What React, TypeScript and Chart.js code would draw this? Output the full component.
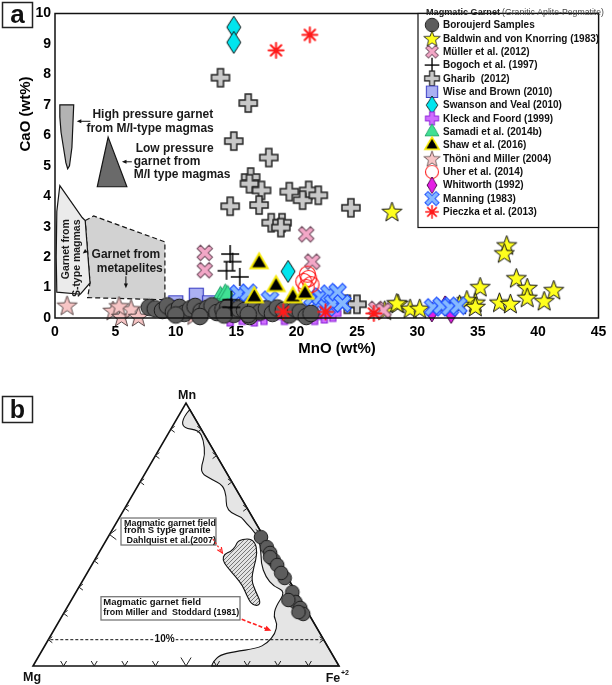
import React, { useEffect, useRef } from 'react';
import { Chart, registerables } from 'chart.js';

Chart.register(...registerables);

const FONT = '"Liberation Sans", Arial, Helvetica, sans-serif';

// ================= Panel a : MnO (wt%) vs CaO (wt%) =================
const mnoTicks = [0, 5, 10, 15, 20, 25, 30, 35, 40, 45];
const caoTicks = [0, 1, 2, 3, 4, 5, 6, 7, 8, 9, 10];
const xTitle = 'MnO (wt%)';
const yTitle = 'CaO (wt%)';

const legendTitle = 'Magmatic Garnet';
const legendSubtitle = '(Granitic Aplite-Pegmatite)';
const seriesNames = [
  'Boroujerd Samples',
  'Baldwin and von Knorring (1983)',
  'Müller et al. (2012)',
  'Bogoch et al. (1997)',
  'Gharib  (2012)',
  'Wise and Brown (2010)',
  'Swanson and Veal (2010)',
  'Kleck and Foord (1999)',
  'Samadi et al. (2014b)',
  'Shaw et al. (2016)',
  'Thöni and Miller (2004)',
  'Uher et al. (2014)',
  'Whitworth (1992)',
  'Manning (1983)',
  'Pieczka et al. (2013)',
];

const boroujerdMnO = [7.8, 8.3, 8.9, 9.3, 9.8, 10.3, 10.7, 11.2, 11.6, 12.1, 12.6, 13.0, 13.4, 13.9, 14.3, 14.8, 15.2, 15.7, 16.1, 16.6, 17.0, 17.5, 18.0, 18.4, 18.9, 19.4, 19.9, 20.3, 20.8, 21.2, 10.0, 12.0, 14.0, 16.0];
const boroujerdCaO = [0.35, 0.30, 0.25, 0.40, 0.20, 0.35, 0.15, 0.30, 0.38, 0.22, 0.32, 0.40, 0.18, 0.28, 0.35, 0.12, 0.30, 0.25, 0.05, 0.36, 0.20, 0.30, 0.15, 0.33, 0.25, 0.10, 0.30, 0.20, 0.05, 0.15, 0.10, 0.05, 0.10, 0.12];
const baldwinMnO = [27.9, 37.4, 37.2, 38.2, 35.2, 39.1, 41.3, 39.1, 40.5, 36.8, 37.7, 34.8, 34.1, 34.8, 28.4, 29.4, 30.2, 27.3, 28.3, 33.5];
const baldwinCaO = [3.5, 2.4, 2.14, 1.32, 1.03, 1.0, 0.93, 0.68, 0.57, 0.52, 0.48, 0.52, 0.6, 0.38, 0.48, 0.32, 0.32, 0.26, 0.5, 0.45];
const mullerMnO = [12.4, 12.4, 20.8, 21.3, 26.6, 27.2];
const mullerCaO = [2.14, 1.57, 2.75, 1.85, 0.3, 0.25];
const bogochMnO = [14.5, 14.7, 14.2, 15.3, 14.6, 14.6];
const bogochCaO = [2.1, 1.85, 1.55, 1.35, 0.6, 0.35];
const gharibMnO = [13.7, 16.0, 14.8, 17.7, 16.2, 16.1, 17.1, 14.5, 16.9, 19.4, 21.0, 20.5, 21.8, 17.9, 18.8, 18.7, 24.5, 24.2, 25.0];
const gharibCaO = [7.89, 7.06, 5.81, 5.27, 4.63, 4.41, 4.19, 3.67, 3.71, 4.15, 4.19, 3.87, 4.03, 3.13, 3.13, 2.97, 3.62, 0.45, 0.45];
const wiseMnO = [10.0, 11.7, 12.8, 9.4];
const wiseCaO = [0.5, 0.75, 0.5, 0.35];
const swansonMnO = [14.8, 14.8, 19.3];
const swansonCaO = [9.55, 9.05, 1.53];
const kleckMnO = [14.5, 15.5, 16.5, 17.3, 19.0, 21.5, 22.3, 23.0];
const kleckCaO = [0.0, 0.05, 0.0, 0.05, 0.05, 0.05, 0.1, 0.15];
const samadiMnO = [13.7, 14.1, 14.3];
const samadiCaO = [0.72, 0.8, 0.75];
const shawMnO = [16.9, 18.3, 16.5, 19.7, 20.7];
const shawCaO = [1.8, 1.05, 0.68, 0.68, 0.8];
const thoniMnO = [1.0, 4.8, 5.5, 6.3, 6.9, 5.3, 11.5];
const thoniCaO = [0.42, 0.25, 0.05, 0.3, 0.05, 0.4, 0.1];
const uherMnO = [20.9, 20.6, 21.2, 21.0, 20.8];
const uherCaO = [1.44, 1.2, 1.1, 1.3, 1.0];
const whitworthMnO = [31.2, 32.3, 32.8];
const whitworthCaO = [0.2, 0.4, 0.15];
const manningMnO = [15.2, 16.0, 17.8, 20.0, 21.3, 21.8, 22.0, 22.5, 22.7, 23.0, 23.4, 23.8, 31.3, 32.0, 32.7, 33.4];
const manningCaO = [0.8, 0.83, 0.6, 0.55, 0.67, 0.5, 0.7, 0.35, 0.8, 0.48, 0.85, 0.48, 0.35, 0.4, 0.35, 0.4];
const pieczkaMnO = [18.3, 21.1, 18.9, 22.4, 26.4];
const pieczkaCaO = [8.79, 9.3, 0.2, 0.2, 0.15];

// compositional fields of panel a (outlines in MnO / CaO wt%)
const highPressureMnO = [0.4, 1.55, 1.4, 1.2, 1.05, 0.9, 0.7, 0.5, 0.4];
const highPressureCaO = [7.0, 7.0, 5.6, 5.0, 4.9, 5.1, 5.6, 6.1, 6.6];
const lowPressureMnO = [4.4, 5.95, 3.5];
const lowPressureCaO = [5.94, 4.31, 4.31];
const sTypeMnO = [0.4, 2.25, 2.5, 2.9, 2.1, 0.15, 0.1, 0.15];
const sTypeCaO = [4.35, 3.3, 3.2, 1.15, 0.78, 0.85, 2.0, 3.5];
const metapeliteMnO = [2.5, 3.2, 9.1, 9.1, 2.7, 2.9];
const metapeliteCaO = [3.2, 3.35, 2.5, 0.6, 0.67, 1.15];

// ================= Panel b : Mn - Mg - Fe+2 ternary =================
const apexLabels = ['Mn', 'Mg', 'Fe'];
const sampleMn = [49.0, 45.2, 43.0, 40.3, 41.4, 38.4, 33.5, 28.1, 24.3, 25.1, 22.1, 19.8, 20.5, 35.4];
const sampleMg = [1.0, 1.0, 1.0, 1.2, 1.8, 1.0, 1.0, 1.2, 2.1, 4.0, 1.6, 1.8, 3.0, 1.2];
// Miller & Stoddard (1981) field: inner boundary, then Fe corner and Mn-Fe edge
const millerFieldMn = [96.1, 93.5, 90.4, 89.7, 85.9, 80.2, 76.4, 73.3, 71.0, 68.8, 64.4, 60.6, 58.1, 56.8, 54.3, 50.5, 45.4, 39.0, 34.0, 30.2, 28.3, 22.5, 18.7, 16.2, 12.4, 8.6, 6.7, 5.4, 4.2, 1.6, 0, 0, 97.5];
const millerFieldMg = [1.7, 4.6, 5.6, 1.0, 1.3, 3.7, 6.7, 8.3, 6.2, 3.5, 4.6, 6.6, 6.2, 3.6, 3.2, 1.9, 2.8, 6.0, 7.0, 6.2, 3.3, 9.5, 12.0, 12.1, 14.6, 19.2, 23.5, 31.8, 36.8, 40.3, 41.6, 0, 0];
// Dahlquist et al. (2007) S-type field
const dahlquistFieldMn = [47.6, 48.6, 47.3, 42.9, 37.8, 32.7, 28.3, 24.4, 22.8, 23.6, 27.0, 30.8, 34.0, 37.8, 40.3, 42.6, 43.5, 45.6];
const dahlquistFieldMg = [9.3, 5.4, 3.8, 5.2, 8.9, 12.3, 13.1, 13.4, 15.1, 16.9, 16.7, 16.2, 16.8, 17.8, 17.9, 16.2, 13.6, 10.9];
const ternaryTicks = [10, 20, 30, 40, 50, 60, 70, 80, 90];
const guideLineMn = 10;
const guideLabel = '10%';
const boxDahlquist = ['Magmatic garnet field', 'from S type granite', ' Dahlquist et al.(2007)'];
const boxMiller = ['Magmatic garnet field', 'from Miller and  Stoddard (1981)'];

// ================= helpers =================
function ternXY(mn: number, mg: number) {
  const fe = 100 - mn - mg;
  return { x: (fe + mn / 2) / 100, y: mn / 100 };
}

function canvasMarker(w: number, h: number, paint: (c: CanvasRenderingContext2D) => void) {
  const cv = document.createElement('canvas');
  cv.width = w;
  cv.height = h;
  const c = cv.getContext('2d') as CanvasRenderingContext2D;
  c.translate(w / 2, h / 2);
  c.lineJoin = 'miter';
  paint(c);
  return cv;
}
function fs(c: CanvasRenderingContext2D, fill: string | null, stroke: string | null, lw: number) {
  if (fill) { c.fillStyle = fill; c.fill(); }
  if (stroke) { c.strokeStyle = stroke; c.lineWidth = lw; c.stroke(); }
}
function circleM(r: number, fill: string | null, stroke: string, lw: number) {
  const s = Math.ceil(2 * r + lw + 3);
  return canvasMarker(s, s, (c) => { c.beginPath(); c.arc(0, 0, r, 0, Math.PI * 2); fs(c, fill, stroke, lw); });
}
function starM(R: number, r: number, fill: string, stroke: string, lw: number) {
  const s = Math.ceil(2 * R + lw + 3);
  return canvasMarker(s, s, (c) => {
    c.beginPath();
    for (let i = 0; i < 10; i++) {
      const a = -Math.PI / 2 + (i * Math.PI) / 5;
      const rr = i % 2 === 0 ? R : r;
      const px = rr * Math.cos(a), py = rr * Math.sin(a) + R * 0.1;
      if (i === 0) c.moveTo(px, py); else c.lineTo(px, py);
    }
    c.closePath();
    fs(c, fill, stroke, lw);
  });
}
function plusM(L: number, w: number, rot: number, fill: string, stroke: string, lw: number) {
  const s = Math.ceil(2 * L + lw + 4);
  return canvasMarker(s, s, (c) => {
    c.rotate(rot);
    const p = [[-w, -L], [w, -L], [w, -w], [L, -w], [L, w], [w, w], [w, L], [-w, L], [-w, w], [-L, w], [-L, -w], [-w, -w]];
    c.beginPath();
    p.forEach((q, i) => (i ? c.lineTo(q[0], q[1]) : c.moveTo(q[0], q[1])));
    c.closePath();
    fs(c, fill, stroke, lw);
  });
}
function thinPlusM(L: number, color: string, lw: number) {
  const s = Math.ceil(2 * L + lw + 2);
  return canvasMarker(s, s, (c) => {
    c.beginPath(); c.moveTo(-L, 0); c.lineTo(L, 0); c.moveTo(0, -L); c.lineTo(0, L);
    c.strokeStyle = color; c.lineWidth = lw; c.stroke();
  });
}
function asteriskM(L: number, color: string, lw: number) {
  const s = Math.ceil(2 * L + lw + 2);
  return canvasMarker(s, s, (c) => {
    c.beginPath();
    for (let k = 0; k < 4; k++) {
      const a = (k * Math.PI) / 4;
      c.moveTo(-L * Math.cos(a), -L * Math.sin(a));
      c.lineTo(L * Math.cos(a), L * Math.sin(a));
    }
    c.strokeStyle = color; c.lineWidth = lw; c.lineCap = 'round'; c.stroke();
  });
}
function squareM(side: number, fill: string, stroke: string, lw: number) {
  const s = Math.ceil(side + lw + 3);
  return canvasMarker(s, s, (c) => { c.beginPath(); c.rect(-side / 2, -side / 2, side, side); fs(c, fill, stroke, lw); });
}
function triangleM(side: number, fill: string, stroke: string, lw: number) {
  const h = (side * Math.sqrt(3)) / 2;
  const s = Math.ceil(side + lw * 2 + 4);
  return canvasMarker(s, s, (c) => {
    c.beginPath(); c.moveTo(0, -(2 * h) / 3); c.lineTo(side / 2, h / 3); c.lineTo(-side / 2, h / 3); c.closePath();
    fs(c, fill, stroke, lw);
  });
}
function diamondM(w: number, h: number, fill: string, stroke: string, lw: number) {
  return canvasMarker(Math.ceil(w + lw + 3), Math.ceil(h + lw + 3), (c) => {
    c.beginPath(); c.moveTo(0, -h / 2); c.lineTo(w / 2, 0); c.lineTo(0, h / 2); c.lineTo(-w / 2, 0); c.closePath();
    fs(c, fill, stroke, lw);
  });
}

function smoothOpen(ctx: CanvasRenderingContext2D, pts: number[][]) {
  ctx.moveTo(pts[0][0], pts[0][1]);
  for (let i = 1; i < pts.length - 1; i++) {
    const mx = (pts[i][0] + pts[i + 1][0]) / 2, my = (pts[i][1] + pts[i + 1][1]) / 2;
    ctx.quadraticCurveTo(pts[i][0], pts[i][1], mx, my);
  }
  const l = pts[pts.length - 1];
  ctx.lineTo(l[0], l[1]);
}
function smoothClosed(ctx: CanvasRenderingContext2D, pts: number[][]) {
  const n = pts.length;
  const m0 = [(pts[n - 1][0] + pts[0][0]) / 2, (pts[n - 1][1] + pts[0][1]) / 2];
  ctx.moveTo(m0[0], m0[1]);
  for (let i = 0; i < n; i++) {
    const p = pts[i], q = pts[(i + 1) % n];
    ctx.quadraticCurveTo(p[0], p[1], (p[0] + q[0]) / 2, (p[1] + q[1]) / 2);
  }
  ctx.closePath();
}
function arrow(ctx: CanvasRenderingContext2D, x1: number, y1: number, x2: number, y2: number, color: string, lw: number, dash: number[], filled: boolean, hl: number) {
  ctx.save();
  ctx.strokeStyle = color; ctx.fillStyle = color; ctx.lineWidth = lw;
  const a = Math.atan2(y2 - y1, x2 - x1);
  ctx.setLineDash(dash);
  ctx.beginPath(); ctx.moveTo(x1, y1);
  ctx.lineTo(filled ? x2 - hl * 0.7 * Math.cos(a) : x2, filled ? y2 - hl * 0.7 * Math.sin(a) : y2);
  ctx.stroke();
  ctx.setLineDash([]);
  const p1 = [x2 - hl * Math.cos(a - 0.42), y2 - hl * Math.sin(a - 0.42)];
  const p2 = [x2 - hl * Math.cos(a + 0.42), y2 - hl * Math.sin(a + 0.42)];
  ctx.beginPath();
  if (filled) {
    ctx.moveTo(x2, y2); ctx.lineTo(p1[0], p1[1]); ctx.lineTo(p2[0], p2[1]); ctx.closePath(); ctx.fill();
  } else {
    ctx.moveTo(p1[0], p1[1]); ctx.lineTo(x2, y2); ctx.lineTo(p2[0], p2[1]); ctx.stroke();
  }
  ctx.restore();
}

function buildMarkers() {
  return {
    boroujerd: circleM(8.3, '#5d5d5d', '#1b1b1b', 1),
    boroujerdSmall: circleM(6.8, '#5d5d5d', '#1b1b1b', 1),
    baldwin: starM(10.5, 4.3, '#ffff1e', '#111', 1),
    muller: plusM(8.5, 2.4, Math.PI / 4, '#f3a7c7', '#6e4a5c', 1),
    bogoch: thinPlusM(9, '#000', 1.5),
    gharib: plusM(9, 3, 0, '#c8c8c8', '#222', 1.5),
    wise: squareM(14, '#abb0f2', '#3b3fc4', 1.2),
    swanson: diamondM(14, 22, '#00e5ee', '#111', 1),
    kleck: plusM(8, 3, 0, '#cf6cff', '#8a1fd8', 1.2),
    samadi: triangleM(17, '#40e094', '#229e68', 1),
    shaw: triangleM(17, '#000', '#f5e800', 2),
    thoni: starM(10.5, 4.3, '#f7c5c5', '#5a4848', 1),
    uher: circleM(8, null, '#ff1a1a', 1.2),
    whitworth: diamondM(12, 20, '#e41ee4', '#3a003a', 1),
    manning: plusM(9.5, 2.6, Math.PI / 4, '#86b9ff', '#1f50ff', 1.2),
    pieczka: asteriskM(7.5, '#ff1a1a', 2),
  };
}

// ================= Component =================
export default function App() {
  const refA = useRef<HTMLCanvasElement>(null);
  const refB = useRef<HTMLCanvasElement>(null);

  useEffect(() => {
    const M = buildMarkers();
    const seriesA = [
      { x: boroujerdMnO, y: boroujerdCaO, m: M.boroujerd, order: 5 },
      { x: baldwinMnO, y: baldwinCaO, m: M.baldwin, order: 14 },
      { x: mullerMnO, y: mullerCaO, m: M.muller, order: 12 },
      { x: bogochMnO, y: bogochCaO, m: M.bogoch, order: 2 },
      { x: gharibMnO, y: gharibCaO, m: M.gharib, order: 13 },
      { x: wiseMnO, y: wiseCaO, m: M.wise, order: 10 },
      { x: swansonMnO, y: swansonCaO, m: M.swanson, order: 4 },
      { x: kleckMnO, y: kleckCaO, m: M.kleck, order: 9 },
      { x: samadiMnO, y: samadiCaO, m: M.samadi, order: 7 },
      { x: shawMnO, y: shawCaO, m: M.shaw, order: 1 },
      { x: thoniMnO, y: thoniCaO, m: M.thoni, order: 11 },
      { x: uherMnO, y: uherCaO, m: M.uher, order: 3 },
      { x: whitworthMnO, y: whitworthCaO, m: M.whitworth, order: 8 },
      { x: manningMnO, y: manningCaO, m: M.manning, order: 6 },
      { x: pieczkaMnO, y: pieczkaCaO, m: M.pieczka, order: 0 },
    ];

    const pluginA = {
      id: 'panelA',
      beforeDatasetsDraw(chart: any) {
        const ctx: CanvasRenderingContext2D = chart.ctx;
        const xs = chart.scales.x, ys = chart.scales.y;
        const P = (a: number, b: number) => [xs.getPixelForValue(a), ys.getPixelForValue(b)];
        const poly = (X: number[], Y: number[], fill: string, dash: number[]) => {
          ctx.beginPath();
          X.forEach((v, i) => { const q = P(v, Y[i]); if (i) ctx.lineTo(q[0], q[1]); else ctx.moveTo(q[0], q[1]); });
          ctx.closePath();
          ctx.fillStyle = fill; ctx.fill();
          ctx.setLineDash(dash); ctx.lineWidth = 1.2; ctx.strokeStyle = '#151515'; ctx.stroke(); ctx.setLineDash([]);
        };
        ctx.save();
        poly(metapeliteMnO, metapeliteCaO, '#d2d2d2', [5, 3]);
        poly(sTypeMnO, sTypeCaO, '#ebebeb', []);
        poly(highPressureMnO, highPressureCaO, '#b3b3b3', []);
        poly(lowPressureMnO, lowPressureCaO, '#6a6a6a', []);

        ctx.fillStyle = '#1a1a1a';
        ctx.textBaseline = 'middle';
        ctx.font = `bold 12px ${FONT}`;
        const txt = (t: string, a: number, b: number, align: CanvasTextAlign) => {
          const q = P(a, b); ctx.textAlign = align; ctx.fillText(t, q[0], q[1]);
        };
        txt('High pressure garnet', 3.1, 6.68, 'left');
        txt('from M/I-type magmas', 2.6, 6.23, 'left');
        txt('Low pressure', 6.68, 5.56, 'left');
        txt('garnet from', 6.52, 5.14, 'left');
        txt('M/I type magmas', 6.52, 4.72, 'left');
        txt('Garnet from', 5.87, 2.08, 'center');
        txt('metapelites', 6.19, 1.63, 'center');
        ctx.font = `bold 10.5px ${FONT}`;
        const rot = (t: string, a: number, b: number) => {
          const q = P(a, b);
          ctx.save(); ctx.translate(q[0], q[1]); ctx.rotate(-Math.PI / 2); ctx.textAlign = 'center'; ctx.fillText(t, 0, 0); ctx.restore();
        };
        rot('Garnet from', 0.9, 2.26);
        rot('S-type magmas', 1.83, 1.96);
        const ar = (a1: number, b1: number, a2: number, b2: number) => {
          const p = P(a1, b1), q = P(a2, b2);
          arrow(ctx, p[0], p[1], q[0], q[1], '#111', 1, [], true, 5);
        };
        ar(2.93, 6.46, 1.8, 6.46);
        ar(6.36, 5.13, 5.54, 5.13);
        ar(5.87, 1.37, 5.87, 0.98);
        ar(2.55, 2.2, 2.3, 2.12);
        ctx.restore();
      },
      afterDatasetsDraw(chart: any) {
        const ctx: CanvasRenderingContext2D = chart.ctx;
        const xs = chart.scales.x;
        const area = chart.chartArea;
        ctx.save();
        // frame
        ctx.strokeStyle = '#111'; ctx.lineWidth = 1.5;
        ctx.strokeRect(area.left, area.top, area.right - area.left, area.bottom - area.top);
        // legend
        const lx = 418, ly = area.top, lw = area.right - 418, lh = 214;
        ctx.fillStyle = '#fff'; ctx.fillRect(lx, ly, lw, lh);
        ctx.lineWidth = 1.2; ctx.strokeRect(lx, ly, lw, lh);
        ctx.textBaseline = 'middle'; ctx.textAlign = 'left';
        ctx.fillStyle = '#222'; ctx.font = `bold 9.5px ${FONT}`;
        ctx.fillText(legendTitle, 426, 12.5, 74);
        ctx.fillStyle = '#444'; ctx.font = `8.8px ${FONT}`;
        ctx.fillText(legendSubtitle, 502, 12.5, 102);
        ctx.font = `bold 10px ${FONT}`; ctx.fillStyle = '#111';
        seriesA.forEach((s, i) => {
          const cy = 25 + i * 13.35;
          const sc = 0.82;
          const w = s.m.width * sc, h = s.m.height * sc;
          ctx.drawImage(s.m, 432 - w / 2, cy - h / 2, w, h);
          ctx.fillText(seriesNames[i], 443, cy + 0.5, 162);
        });
        // x tick labels
        ctx.fillStyle = '#000'; ctx.font = `bold 14px ${FONT}`; ctx.textAlign = 'center';
        xs.ticks.forEach((t: any) => {
          const label = String(t.value);
          const w = ctx.measureText(label).width;
          let px = xs.getPixelForValue(t.value);
          px = Math.min(px, 611 - w / 2);
          ctx.fillText(label, px, area.bottom + 14);
        });
        // axis titles
        ctx.font = `bold 15px ${FONT}`;
        ctx.fillText(xTitle, 337, area.bottom + 31);
        ctx.save(); ctx.translate(26, 114); ctx.rotate(-Math.PI / 2); ctx.fillText(yTitle, 0, 0); ctx.restore();
        // panel label
        ctx.lineWidth = 1.5; ctx.strokeStyle = '#222';
        ctx.fillStyle = '#fff'; ctx.fillRect(2.5, 2.5, 30, 25); ctx.strokeRect(2.5, 2.5, 30, 25);
        ctx.fillStyle = '#111'; ctx.font = `bold 26px ${FONT}`; ctx.textBaseline = 'alphabetic';
        ctx.fillText('a', 17.5, 22.5);
        ctx.restore();
      },
    };

    const chartA = new Chart(refA.current as HTMLCanvasElement, {
      type: 'scatter',
      data: {
        datasets: seriesA.map((s, i) => ({
          label: seriesNames[i],
          data: s.x.map((v, k) => ({ x: v, y: s.y[k] })),
          pointStyle: s.m as any,
          pointRadius: s.m.width / 2,
          pointHoverRadius: s.m.width / 2,
          order: s.order,
          clip: false as any,
        })),
      },
      options: {
        responsive: false,
        animation: false,
        devicePixelRatio: 1,
        events: [],
        layout: { padding: { top: 4, right: 3, left: 0, bottom: 0 } },
        plugins: { legend: { display: false }, tooltip: { enabled: false } },
        scales: {
          x: {
            type: 'linear',
            min: mnoTicks[0],
            max: mnoTicks[mnoTicks.length - 1],
            grid: { display: false, drawTicks: false },
            border: { display: false },
            ticks: { stepSize: mnoTicks[1] - mnoTicks[0], display: false },
            afterFit: (s: any) => { s.height = 54; s.paddingLeft = 0; s.paddingRight = 0; },
          },
          y: {
            type: 'linear',
            min: caoTicks[0],
            max: caoTicks[caoTicks.length - 1],
            grid: { display: false, drawTicks: false },
            border: { display: false },
            ticks: { stepSize: caoTicks[1] - caoTicks[0], padding: 4, color: '#000', font: { family: FONT, size: 14, weight: 'bold' } },
            afterFit: (s: any) => { s.width = 55; s.paddingTop = 0; s.paddingBottom = 0; },
          },
        },
      } as any,
      plugins: [pluginA],
    });

    // ---------- panel b ----------
    const pluginB = {
      id: 'panelB',
      beforeDatasetsDraw(chart: any) {
        const ctx: CanvasRenderingContext2D = chart.ctx;
        const xs = chart.scales.x, ys = chart.scales.y;
        const T = (mn: number, mg: number) => { const p = ternXY(mn, mg); return [xs.getPixelForValue(p.x), ys.getPixelForValue(p.y)]; };
        ctx.save();
        // Miller & Stoddard field
        const f = millerFieldMn.map((mn, i) => T(mn, millerFieldMg[i]));
        const n = f.length;
        ctx.beginPath();
        smoothOpen(ctx, f.slice(0, n - 2));
        ctx.lineTo(f[n - 2][0], f[n - 2][1]);
        ctx.lineTo(f[n - 1][0], f[n - 1][1]);
        ctx.closePath();
        ctx.fillStyle = '#e5e5e5'; ctx.fill();
        ctx.strokeStyle = '#111'; ctx.lineWidth = 1.1; ctx.stroke();
        // Dahlquist hatched field
        const pc = document.createElement('canvas');
        pc.width = 4; pc.height = 4;
        const g = pc.getContext('2d') as CanvasRenderingContext2D;
        g.fillStyle = '#e2e2e2'; g.fillRect(0, 0, 4, 4);
        g.strokeStyle = '#5a5a5a'; g.lineWidth = 0.8;
        g.beginPath(); g.moveTo(0, 4); g.lineTo(4, 0); g.moveTo(-1, 1); g.lineTo(1, -1); g.moveTo(3, 5); g.lineTo(5, 3); g.stroke();
        const pat = ctx.createPattern(pc, 'repeat') as CanvasPattern;
        const h = dahlquistFieldMn.map((mn, i) => T(mn, dahlquistFieldMg[i]));
        ctx.beginPath(); smoothClosed(ctx, h);
        ctx.fillStyle = pat; ctx.fill();
        ctx.strokeStyle = '#111'; ctx.lineWidth = 1.1; ctx.stroke();
        // triangle
        const A = T(100, 0), B = T(0, 100), C = T(0, 0);
        ctx.beginPath(); ctx.moveTo(B[0], B[1]); ctx.lineTo(C[0], C[1]); ctx.lineTo(A[0], A[1]); ctx.closePath();
        ctx.strokeStyle = '#111'; ctx.lineWidth = 1.6; ctx.lineJoin = 'miter'; ctx.stroke();
        // ticks
        ctx.lineWidth = 1; ctx.strokeStyle = '#222';
        const chev = (p: number[], d: number[][]) => {
          ctx.beginPath(); ctx.moveTo(p[0] + d[0][0], p[1] + d[0][1]); ctx.lineTo(p[0], p[1]); ctx.lineTo(p[0] + d[1][0], p[1] + d[1][1]); ctx.stroke();
        };
        ternaryTicks.forEach((t) => {
          const big = t === 50 ? 1.7 : 1;
          chev(T(t, 100 - t), [[4 * big, -3 * big], [4 * big, 3 * big]]);
          chev(T(t, 0), [[-4 * big, -3 * big], [-4 * big, 3 * big]]);
          chev(T(0, 100 - t), [[-3 * big, -5 * big], [3 * big, -5 * big]]);
        });
        // 10% guide line
        const gl = T(guideLineMn, 100 - guideLineMn), gr = T(guideLineMn, 0);
        ctx.setLineDash([3, 2]); ctx.lineWidth = 1; ctx.strokeStyle = '#111';
        ctx.beginPath(); ctx.moveTo(gl[0] + 2, gl[1]); ctx.lineTo(gr[0] - 2, gr[1]); ctx.stroke();
        ctx.setLineDash([]);
        const gx = xs.getPixelForValue(0.43);
        ctx.font = `bold 10px ${FONT}`; ctx.textAlign = 'center'; ctx.textBaseline = 'middle';
        const gw = ctx.measureText(guideLabel).width;
        ctx.fillStyle = '#fff'; ctx.fillRect(gx - gw / 2 - 1, gl[1] - 5, gw + 2, 10);
        ctx.fillStyle = '#111'; ctx.fillText(guideLabel, gx, gl[1]);
        // apex labels
        ctx.font = `bold 12.5px ${FONT}`; ctx.textBaseline = 'alphabetic';
        ctx.fillText(apexLabels[0], A[0] + 1, A[1] - 4);
        ctx.fillText(apexLabels[1], B[0] - 1, B[1] + 15);
        ctx.fillText(apexLabels[2], C[0] - 6, C[1] + 16);
        ctx.font = `bold 7px ${FONT}`; ctx.textAlign = 'left';
        ctx.fillText('+2', C[0] + 2, C[1] + 9);
        ctx.restore();
      },
      afterDatasetsDraw(chart: any) {
        const ctx: CanvasRenderingContext2D = chart.ctx;
        const xs = chart.scales.x, ys = chart.scales.y;
        const P = (a: number, b: number) => [xs.getPixelForValue(a), ys.getPixelForValue(b)];
        ctx.save();
        const box = (x1: number, y1: number, x2: number, y2: number) => {
          const p = P(x1, y1), q = P(x2, y2);
          ctx.fillStyle = '#fff'; ctx.fillRect(p[0], p[1], q[0] - p[0], q[1] - p[1]);
          ctx.strokeStyle = '#777'; ctx.lineWidth = 1.3; ctx.strokeRect(p[0], p[1], q[0] - p[0], q[1] - p[1]);
        };
        ctx.font = `bold 9.5px ${FONT}`; ctx.textAlign = 'left'; ctx.textBaseline = 'middle';
        box(0.2876, 0.5627, 0.598, 0.46);
        ctx.fillStyle = '#111';
        const ys1 = [0.5426, 0.5144, 0.4791];
        boxDahlquist.forEach((t, i) => { const p = P(0.2974, ys1[i]); ctx.fillText(t, p[0], p[1], 92); });
        box(0.2222, 0.2635, 0.6765, 0.1749);
        ctx.fillStyle = '#111';
        const ys2 = [0.2407, 0.2027];
        boxMiller.forEach((t, i) => { const p = P(0.2297, ys2[i]); ctx.fillText(t, p[0], p[1], 136); });
        let p = P(0.588, 0.483), q = P(0.619, 0.43);
        arrow(ctx, p[0], p[1], q[0], q[1], '#ff2020', 1.2, [2, 2], false, 6);
        p = P(0.682, 0.1776); q = P(0.779, 0.134);
        arrow(ctx, p[0], p[1], q[0], q[1], '#ff2020', 1.6, [4, 2], true, 7);
        // panel label
        ctx.lineWidth = 1.5; ctx.strokeStyle = '#222';
        ctx.fillStyle = '#fff'; ctx.fillRect(2.5, 24.5, 30, 26); ctx.strokeRect(2.5, 24.5, 30, 26);
        ctx.fillStyle = '#111'; ctx.font = `bold 25px ${FONT}`; ctx.textAlign = 'center'; ctx.textBaseline = 'alphabetic';
        ctx.fillText('b', 17.5, 46);
        ctx.restore();
      },
    };

    const chartB = new Chart(refB.current as HTMLCanvasElement, {
      type: 'scatter',
      data: {
        datasets: [
          {
            label: seriesNames[0],
            data: sampleMn.map((mn, i) => ternXY(mn, sampleMg[i])),
            pointStyle: M.boroujerdSmall as any,
            pointRadius: 8,
            pointHoverRadius: 8,
            clip: false as any,
          },
        ],
      },
      options: {
        responsive: false,
        animation: false,
        devicePixelRatio: 1,
        events: [],
        layout: { padding: { left: 33, right: 273, top: 31, bottom: 19 } },
        plugins: { legend: { display: false }, tooltip: { enabled: false } },
        scales: {
          x: { type: 'linear', display: false, min: 0, max: 1 },
          y: { type: 'linear', display: false, min: 0, max: 1 },
        },
      } as any,
      plugins: [pluginB],
    });

    return () => {
      chartA.destroy();
      chartB.destroy();
    };
  }, []);

  return (
    <div style={{ position: 'absolute', left: 0, top: 0, width: 612, height: 685, background: '#fff' }}>
      <canvas ref={refA} width={612} height={372} style={{ position: 'absolute', left: 0, top: 0, width: 612, height: 372 }} />
      <canvas ref={refB} width={612} height={313} style={{ position: 'absolute', left: 0, top: 372, width: 612, height: 313 }} />
    </div>
  );
}
